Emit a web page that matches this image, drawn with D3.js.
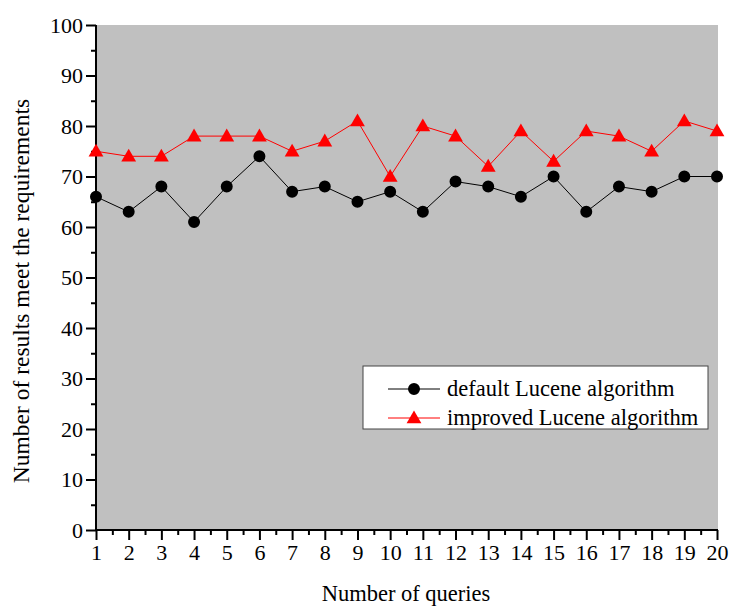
<!DOCTYPE html>
<html>
<head>
<meta charset="utf-8">
<script src="https://cdn.jsdelivr.net/npm/d3@7"></script>
<style>
  body { margin: 0; background: #fff; }
  text { font-family: "Liberation Serif", "Times New Roman", serif; fill: #000; }
</style>
</head>
<body>
<div id="chart"></div>
<script>
var queries = d3.range(1, 21);
var defaultLucene = [66, 63, 68, 61, 68, 74, 67, 68, 65, 67, 63, 69, 68, 66, 70, 63, 68, 67, 70, 70];
var improvedLucene = [75, 74, 74, 78, 78, 78, 75, 77, 81, 70, 80, 78, 72, 79, 73, 79, 78, 75, 81, 79];
var yTicks = [0, 10, 20, 30, 40, 50, 60, 70, 80, 90, 100];
var seriesNames = ['default Lucene algorithm', 'improved Lucene algorithm'];

var width = 731, height = 606;
var plotLeft = 96, plotRight = 718, plotTop = 25, plotBottom = 530;

var x = d3.scaleLinear().domain([1, 20]).range([plotLeft, plotRight - 1]);
var y = d3.scaleLinear().domain([0, 100]).range([plotBottom, plotTop]);

var svg = d3.select('#chart').append('svg')
  .attr('width', width)
  .attr('height', height);

svg.append('rect')
  .attr('x', plotLeft)
  .attr('y', plotTop)
  .attr('width', plotRight - plotLeft)
  .attr('height', plotBottom - plotTop)
  .style('fill', '#c0c0c0');

// axes
var yAxis = d3.axisLeft(y).tickValues(yTicks).tickSize(10).tickPadding(3);
var gy = svg.append('g').attr('transform', 'translate(' + plotLeft + ',0)').call(yAxis);
svg.append('g').attr('transform', 'translate(' + plotLeft + ',0)')
  .call(d3.axisLeft(y).tickValues(d3.range(5, 100, 10)).tickSize(5).tickFormat(''))
  .select('.domain').remove();

var xAxis = d3.axisBottom(x).tickValues(queries).tickSize(10).tickPadding(4);
var gx = svg.append('g').attr('transform', 'translate(0,' + plotBottom + ')').call(xAxis);
svg.append('g').attr('transform', 'translate(0,' + plotBottom + ')')
  .call(d3.axisBottom(x).tickValues(d3.range(1.5, 20, 1)).tickSize(5).tickFormat(''))
  .select('.domain').remove();

[gx, gy].forEach(function(g) {
  g.select('.domain').attr('stroke-width', 2);
  g.selectAll('text').style('font-size', '22px').style('font-family', '"Liberation Serif", serif');
});
gy.select('.domain').attr('d', 'M0,' + plotTop + 'V' + (plotBottom + 1));
gx.select('.domain').attr('d', 'M' + (plotLeft - 1) + ',0H' + plotRight);
svg.selectAll('.tick line').attr('stroke-width', 2);

// lines
var line = d3.line()
  .x(function(d, i) { return x(queries[i]); })
  .y(function(d) { return y(d); });

svg.append('path').datum(defaultLucene)
  .attr('d', line).attr('fill', 'none').attr('stroke', '#000').attr('stroke-width', 1);
svg.append('path').datum(improvedLucene)
  .attr('d', line).attr('fill', 'none').attr('stroke', '#ff0000').attr('stroke-width', 1);

var circle = d3.symbol().type(d3.symbolCircle).size(113);
var triangle = d3.symbol().type(d3.symbolTriangle).size(95);

svg.selectAll('.dot').data(defaultLucene).enter().append('path')
  .attr('d', circle)
  .attr('transform', function(d, i) { return 'translate(' + x(queries[i]) + ',' + y(d) + ')'; })
  .style('fill', '#000');
svg.selectAll('.tri').data(improvedLucene).enter().append('path')
  .attr('d', triangle)
  .attr('transform', function(d, i) { return 'translate(' + x(queries[i]) + ',' + (y(d) + 1) + ')'; })
  .style('fill', '#ff0000');

// axis titles
svg.append('text')
  .attr('x', 406)
  .attr('y', 601)
  .attr('text-anchor', 'middle')
  .style('font-size', '22.5px')
  .text('Number of queries');
svg.append('text')
  .attr('transform', 'translate(29,291) rotate(-90)')
  .attr('text-anchor', 'middle')
  .style('font-size', '23.5px')
  .text('Number of results meet the requirements');

// legend
var legend = svg.append('g').attr('transform', 'translate(363,366)');
legend.append('rect')
  .attr('width', 345).attr('height', 63)
  .style('fill', '#fff').style('stroke', '#444').style('stroke-width', 1);
var rows = legend.selectAll('.row').data(seriesNames).enter().append('g')
  .attr('transform', function(d, i) { return 'translate(0,' + (23 + i * 29) + ')'; });
rows.append('line')
  .attr('x1', 25).attr('x2', 77)
  .attr('stroke', function(d, i) { return i ? '#ff0000' : '#000'; });
rows.append('path')
  .attr('d', function(d, i) { return i ? triangle() : circle(); })
  .attr('transform', function(d, i) { return 'translate(51,' + (i ? 1 : 0) + ')'; })
  .style('fill', function(d, i) { return i ? '#ff0000' : '#000'; });
rows.append('text')
  .attr('x', 84).attr('dy', '0.33em')
  .style('font-size', '22.5px')
  .text(function(d) { return d; });
</script>
</body>
</html>
